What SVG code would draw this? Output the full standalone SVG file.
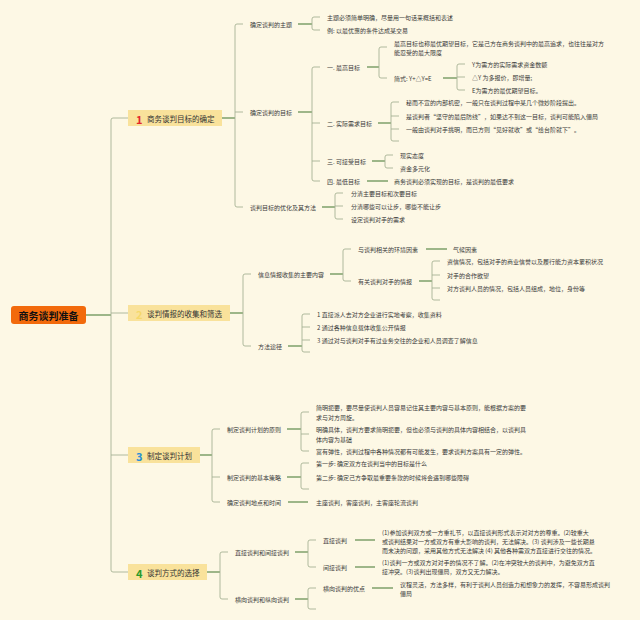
<svg xmlns="http://www.w3.org/2000/svg" width="640" height="620" viewBox="0 0 640 620">
<style>
text{font-family:"Noto Sans CJK SC","Noto Sans",sans-serif;fill:#3a3a3a;dominant-baseline:central}
.t{font-size:6px}
.sec{font-size:7.5px;fill:#333}
.num{font-size:11px;font-weight:bold}
.root{font-size:10px;font-weight:bold;fill:#111;text-anchor:middle}
.br{fill:none;stroke:#a6b294;stroke-width:0.9}
.st{fill:none;stroke:#5e8a4a;stroke-width:1.2}
.box{fill:#f9e29b}
</style>
<rect width="640" height="620" fill="#fdf8e5"/>
<g id="connectors">
<path class="st" d="M86,315 H111"/>
<path class="br" d="M128,118 H113 Q111,118 111,120 V570 Q111,572 113,572 H128 M111,313 H128 M111,455 H128"/>
<!-- section 1 -->
<path class="st" d="M222,118 H235"/>
<path class="br" d="M243,24 H237 Q235,24 235,26 V205 Q235,207 237,207 H243 M235,112 H243"/>
<path class="st" d="M298,24 H312"/>
<path class="br" d="M320,17 H314 Q312,17 312,19 V28 Q312,30 314,30 H320"/>
<path class="st" d="M298,112 H312"/>
<path class="br" d="M320,67 H314 Q312,67 312,69 V179 Q312,181 314,181 H320 M312,123 H320 M312,161 H320"/>
<path class="st" d="M367,67 H379"/>
<path class="br" d="M387,47 H381 Q379,47 379,49 V76 Q379,78 381,78 H387"/>
<path class="st" d="M443,78 H457"/>
<path class="br" d="M465,64 H459 Q457,64 457,66 V88 Q457,90 459,90 H465 M457,77 H465"/>
<path class="st" d="M378,123 H391"/>
<path class="br" d="M399,102 H393 Q391,102 391,104 V139 Q391,141 393,141 H399 M391,116 H399 M391,129 H399"/>
<path class="st" d="M372,161 H385"/>
<path class="br" d="M393,155 H387 Q385,155 385,157 V166 Q385,168 387,168 H393"/>
<path class="st" d="M367,181 H388"/>
<path class="st" d="M322,207 H335"/>
<path class="br" d="M343,193 H337 Q335,193 335,195 V217 Q335,219 337,219 H343 M335,206 H343"/>
<!-- section 2 -->
<path class="st" d="M230,313 H243"/>
<path class="br" d="M251,274 H245 Q243,274 243,276 V344 Q243,346 245,346 H251"/>
<path class="st" d="M330,274 H343"/>
<path class="br" d="M351,249 H345 Q343,249 343,251 V279 Q343,281 345,281 H351"/>
<path class="st" d="M426,249 H447"/>
<path class="st" d="M419,281 H432"/>
<path class="br" d="M440,261 H434 Q432,261 432,263 V298 Q432,300 434,300 H440 M432,275 H440 M432,288 H440"/>
<path class="st" d="M288,346 H302"/>
<path class="br" d="M310,314 H304 Q302,314 302,316 V350 Q302,352 304,352 H310 M302,327 H310 M302,340 H310"/>
<!-- section 3 -->
<path class="st" d="M200,455 H212"/>
<path class="br" d="M220,429 H214 Q212,429 212,431 V500 Q212,502 214,502 H220 M212,477 H220"/>
<path class="st" d="M287,429 H301"/>
<path class="br" d="M309,412 H303 Q301,412 301,414 V449 Q301,451 303,451 H309 M301,434 H309"/>
<path class="st" d="M287,477 H301"/>
<path class="br" d="M309,463 H303 Q301,463 301,465 V487 Q301,489 303,489 H309"/>
<path class="st" d="M288,502 H308"/>
<!-- section 4 -->
<path class="st" d="M207,572 H220"/>
<path class="br" d="M228,552 H222 Q220,552 220,554 V597 Q220,599 222,599 H228"/>
<path class="st" d="M295,552 H308"/>
<path class="br" d="M316,540 H310 Q308,540 308,542 V565 Q308,567 310,567 H316"/>
<path class="st" d="M355,540 H375"/>
<path class="st" d="M355,567 H375"/>
<path class="st" d="M295,599 H308"/>
<path class="br" d="M316,588 H310 Q308,588 308,590 V607 Q308,609 310,609 H316"/>
<path class="st" d="M372,588 H393"/>
</g>
<g id="root">
<rect x="11" y="306" width="75" height="18" rx="3" fill="#f26a0c"/>
<text class="root" x="48.5" y="315.5">商务谈判准备</text>
</g>
<g id="sec1">
<rect class="box" x="128" y="110" width="94" height="16"/>
<text class="num" x="136" y="118.5" style="fill:#e3262b">1</text>
<text class="sec" x="147" y="118.5">商务谈判目标的确定</text>
</g>
<g id="sec2">
<rect class="box" x="128" y="305" width="102" height="16"/>
<text class="num" x="136" y="313.5" style="fill:#f5d86a">2</text>
<text class="sec" x="147" y="313.5">谈判情报的收集和筛选</text>
</g>
<g id="sec3">
<rect class="box" x="128" y="447" width="72" height="16"/>
<text class="num" x="136" y="455.5" style="fill:#2a8fd6">3</text>
<text class="sec" x="147" y="455.5">制定谈判计划</text>
</g>
<g id="sec4">
<rect class="box" x="128" y="564" width="79" height="16"/>
<text class="num" x="136" y="572.5" style="fill:#2a9a2a">4</text>
<text class="sec" x="147" y="572.5">谈判方式的选择</text>
</g>
<g id="s1-nodes">
<text class="t" x="250" y="24">确定谈判的主题</text>
<text class="t" x="327" y="17">主题必须简单明确，尽量用一句话来概括和表述</text>
<text class="t" x="327" y="30">例: 以最优惠的条件达成某交易</text>
<text class="t" x="250" y="112">确定谈判的目标</text>
<text class="t" x="327" y="67">一. 最高目标</text>
<text class="t" x="394" y="43">最高目标也称最优期望目标，它是己方在商务谈判中的最高追求，也往往是对方</text>
<text class="t" x="394" y="52">能忍受的最大限度</text>
<text class="t" x="394" y="78">简式: Y+△Y=E</text>
<text class="t" x="472" y="64">Y为需方的实际需求资金数额</text>
<text class="t" x="472" y="77">△Y 为多报价，即增量;</text>
<text class="t" x="472" y="90">E为需方的最优期望目标。</text>
<text class="t" x="327" y="123">二. 实际需求目标</text>
<text class="t" x="406" y="102">秘而不宣的内部机密，一般只在谈判过程中某几个微妙阶段提出。</text>
<text class="t" x="406" y="116">是谈判者“坚守的最后防线”，如果达不到这一目标，谈判可能陷入僵局</text>
<text class="t" x="406" y="129">一般由谈判对手挑明，而已方则“见好就收”或“给台阶就下”。</text>
<text class="t" x="327" y="161">三. 可接受目标</text>
<text class="t" x="400" y="155">现实态度</text>
<text class="t" x="400" y="168">资金多元化</text>
<text class="t" x="327" y="181">四. 最低目标</text>
<text class="t" x="394" y="181">商务谈判必须实现的目标，是谈判的最低要求</text>
<text class="t" x="250" y="207">谈判目标的优化及其方法</text>
<text class="t" x="351" y="193">分清主要目标和次要目标</text>
<text class="t" x="351" y="206">分清哪些可以让步，哪些不能让步</text>
<text class="t" x="351" y="219">设定谈判对手的需求</text>
</g>
<g id="s2-nodes">
<text class="t" x="258" y="274">信息情报收集的主要内容</text>
<text class="t" x="358" y="249">与谈判相关的环境因素</text>
<text class="t" x="453" y="249">气候因素</text>
<text class="t" x="358" y="281">有关谈判对手的情报</text>
<text class="t" x="447" y="261">资信情况，包括对手的商业信誉以及履行能力资本累积状况</text>
<text class="t" x="447" y="275">对手的合作欲望</text>
<text class="t" x="447" y="288">对方谈判人员的情况，包括人员组成，地位，身份等</text>
<text class="t" x="258" y="346">方法途径</text>
<text class="t" x="317" y="314">1 直接派人去对方企业进行实地考察，收集资料</text>
<text class="t" x="317" y="327">2 通过各种信息载体收集公开情报</text>
<text class="t" x="317" y="340">3 通过对与谈判对手有过业务交往的企业和人员调查了解信息</text>
</g>
<g id="s3-nodes">
<text class="t" x="227" y="429">制定谈判计划的原则</text>
<text class="t" x="316" y="407">简明扼要，要尽量使谈判人员容易记住其主要内容与基本原则，能根据方案的要</text>
<text class="t" x="316" y="417">求与对方周旋。</text>
<text class="t" x="316" y="429">明确具体，谈判方要求简明扼要，但也必须与谈判的具体内容相结合，以谈判具</text>
<text class="t" x="316" y="439">体内容为基础</text>
<text class="t" x="316" y="451">富有弹性，谈判过程中各种情况都有可能发生，要求谈判方案具有一定的弹性。</text>
<text class="t" x="227" y="477">制定谈判的基本策略</text>
<text class="t" x="316" y="463">第一步: 确定双方在谈判当中的目标是什么</text>
<text class="t" x="316" y="477">第二步: 确定己方争取最重要条款的时候将会遇到哪些障碍</text>
<text class="t" x="227" y="502">确定谈判地点和时间</text>
<text class="t" x="316" y="502">主座谈判，客座谈判，主客座轮流谈判</text>
</g>
<g id="s4-nodes">
<text class="t" x="235" y="552">直接谈判和间接谈判</text>
<text class="t" x="323" y="540">直接谈判</text>
<text class="t" x="382" y="532">(1)参加谈判双方或一方重礼节，以直接谈判形式表示对对方的尊重。(2)较重大</text>
<text class="t" x="382" y="541">或谈判结果对一方或双方有重大影响的谈判，无法解决。(3) 谈判涉及一些长期悬</text>
<text class="t" x="382" y="550">而未决的问题，采用其他方式无法解决 (4) 其他各种需双方直接进行交往的情况。</text>
<text class="t" x="323" y="567">间接谈判</text>
<text class="t" x="382" y="562">(1)谈判一方或双方对对手的情况不了解。(2)在冲突较大的谈判中，为避免双方直</text>
<text class="t" x="382" y="571">接冲突。(3)谈判出现僵局，双方又无力解决。</text>
<text class="t" x="235" y="599">横向谈判和纵向谈判</text>
<text class="t" x="323" y="588">横向谈判的优点</text>
<text class="t" x="400" y="584">议程灵活，方法多样，有利于谈判人员创造力和想象力的发挥，不容易形成谈判</text>
<text class="t" x="400" y="593">僵局</text>
</g>
</svg>
